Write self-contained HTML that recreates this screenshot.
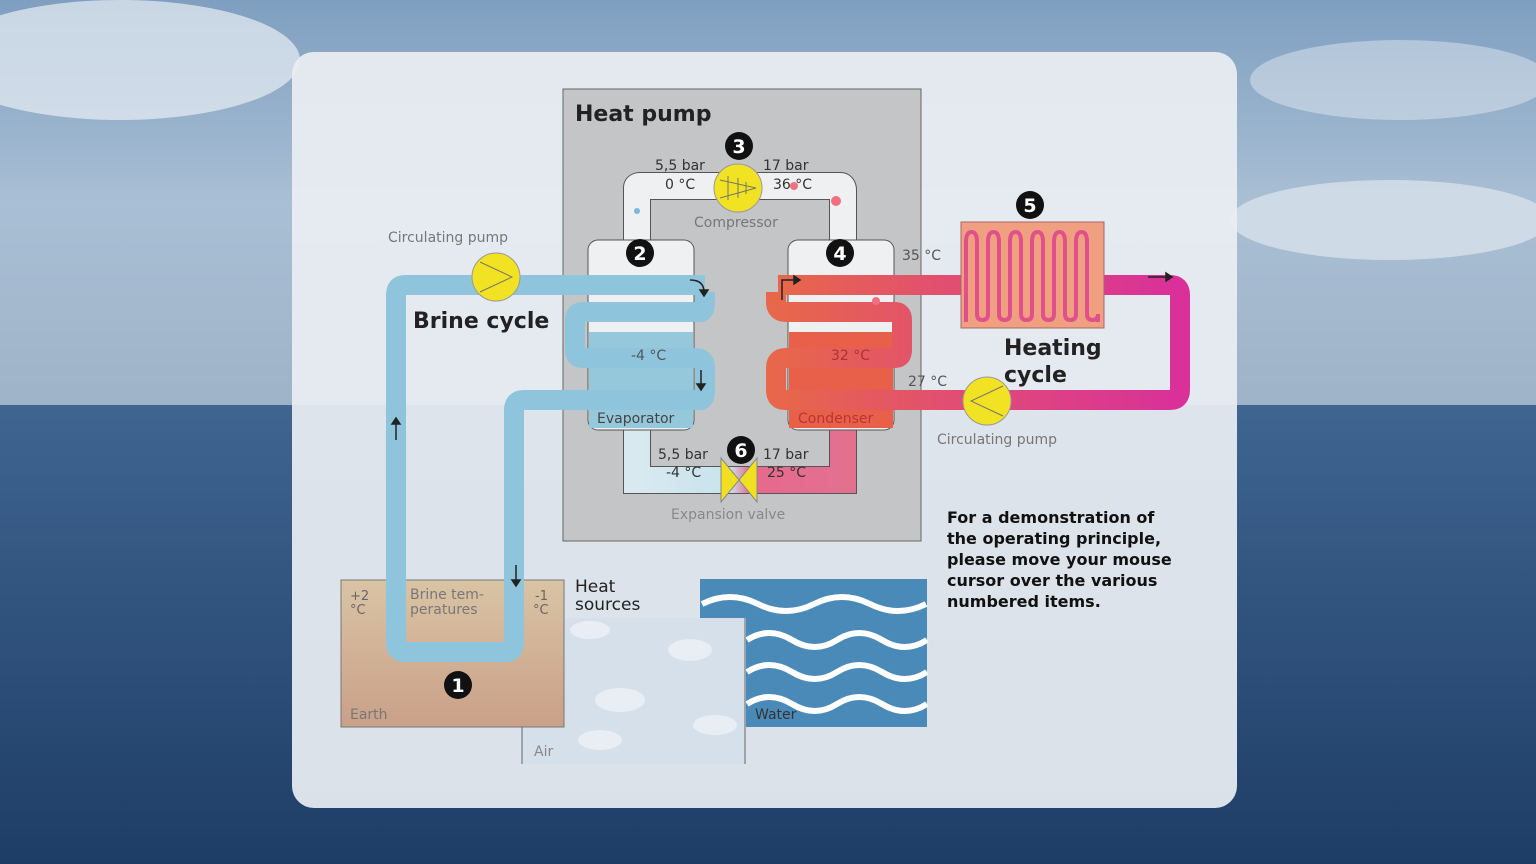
<!DOCTYPE html>
<html><head><meta charset="utf-8"><style>
html,body{margin:0;padding:0;width:1536px;height:864px;overflow:hidden}
svg text{font-family:"DejaVu Sans","Liberation Sans",sans-serif}
</style></head><body>
<svg width="1536" height="864" viewBox="0 0 1536 864" xmlns="http://www.w3.org/2000/svg">
<defs>
<linearGradient id="sky" x1="0" y1="0" x2="0" y2="1">
<stop offset="0" stop-color="#7f9fc0"/><stop offset="0.5" stop-color="#a9bfd4"/><stop offset="1" stop-color="#9fb3c8"/></linearGradient>
<linearGradient id="sea" x1="0" y1="0" x2="0" y2="1">
<stop offset="0" stop-color="#3f6590"/><stop offset="1" stop-color="#1e3d66"/></linearGradient>
<linearGradient id="earth" x1="0" y1="0" x2="0" y2="1">
<stop offset="0" stop-color="#d9c4a4"/><stop offset="1" stop-color="#c9a088"/></linearGradient>
<linearGradient id="heat" x1="0" y1="0" x2="1" y2="0">
<stop offset="0" stop-color="#e8674a"/><stop offset="0.5" stop-color="#e04a78"/><stop offset="1" stop-color="#d9309a"/></linearGradient>
<linearGradient id="botr" x1="0" y1="0" x2="1" y2="0">
<stop offset="0" stop-color="#d8eaf0"/><stop offset="0.45" stop-color="#c8e2ec"/><stop offset="0.55" stop-color="#e6688e"/><stop offset="1" stop-color="#e47090"/></linearGradient>
</defs>
<rect width="1536" height="405" fill="url(#sky)"/>
<ellipse cx="120" cy="60" rx="180" ry="60" fill="#e8eef3" opacity="0.7"/>
<ellipse cx="1390" cy="220" rx="160" ry="40" fill="#e8eef3" opacity="0.6"/>
<ellipse cx="1400" cy="80" rx="150" ry="40" fill="#dfe8f0" opacity="0.5"/>
<rect y="405" width="1536" height="459" fill="url(#sea)"/>
<rect x="292" y="52" width="945" height="756" rx="22" fill="#e9eef2" opacity="0.93"/>
<!-- heat pump box -->
<rect x="563" y="89" width="358" height="452" fill="#c3c5c7" stroke="#666" stroke-width="1"/>
<text x="575" y="121" font-size="22" font-weight="bold" fill="#222">Heat pump</text>
<!-- heat sources -->
<rect x="522" y="618" width="224" height="146" fill="#d6e0ea"/>
<g fill="#e8eef3"><ellipse cx="690" cy="650" rx="22" ry="11"/><ellipse cx="620" cy="700" rx="25" ry="12"/><ellipse cx="715" cy="725" rx="22" ry="10"/><ellipse cx="600" cy="740" rx="22" ry="10"/><ellipse cx="590" cy="630" rx="20" ry="9"/></g>
<rect x="341" y="580" width="223" height="147" fill="url(#earth)" stroke="#777"/>
<line x1="522" y1="727" x2="522" y2="764" stroke="#666"/>
<line x1="745" y1="618" x2="745" y2="764" stroke="#666"/>
<path d="M700 579 H927 V727 H746 V618 H700 Z" fill="#4a8ab8"/>
<g fill="none" stroke="#fff" stroke-width="6">
<path d="M702 604 q28 -14 56 0 t56 0 t56 0 t56 0"/>
<path d="M747 640 q22 -14 45 0 t45 0 t45 0 t45 0"/>
<path d="M747 672 q22 -14 45 0 t45 0 t45 0 t45 0"/>
<path d="M747 704 q22 -14 45 0 t45 0 t45 0 t45 0"/>
</g>
<text x="350" y="600" font-size="13" fill="#666">+2</text><text x="350" y="614" font-size="13" fill="#666">°C</text>
<text x="410" y="599" font-size="14" fill="#777">Brine tem-</text><text x="410" y="614" font-size="14" fill="#777">peratures</text>
<text x="535" y="600" font-size="13" fill="#666">-1</text><text x="533" y="614" font-size="13" fill="#666">°C</text>
<text x="350" y="719" font-size="14" fill="#777">Earth</text>
<text x="534" y="756" font-size="14" fill="#888">Air</text>
<text x="755" y="719" font-size="14" fill="#333">Water</text>
<text x="575" y="592" font-size="17" fill="#222">Heat</text><text x="575" y="610" font-size="17" fill="#222">sources</text>
<!-- refrigerant loop -->
<path d="M637 250 V188 Q637 186 640 186 H840 Q843 186 843 190 V250" fill="none" stroke="#555" stroke-width="28"/>
<path d="M637 250 V188 Q637 186 640 186 H840 Q843 186 843 190 V250" fill="none" stroke="#eef0f1" stroke-width="26"/>
<path d="M637 420 V480 H843 V420" fill="none" stroke="#555" stroke-width="28"/>
<path d="M637 420 V480 H843 V420" fill="none" stroke="url(#botr)" stroke-width="26"/>
<!-- vessels -->
<rect x="588" y="240" width="106" height="190" rx="10" fill="#eef0f1" stroke="#555"/>
<rect x="589" y="332" width="104" height="96" fill="#96c8dc"/>
<rect x="788" y="240" width="106" height="190" rx="10" fill="#eef0f1" stroke="#555"/>
<rect x="789" y="332" width="104" height="96" fill="#e8604a"/>
<!-- pipes -->
<g fill="none" stroke-linejoin="round">
<path d="M705 285 H405 Q396 285 396 295 V643 Q396 652 405 652 H505 Q514 652 514 643 V410 Q514 400 524 400 H700 Q705 400 705 390 V368 Q705 358 695 358 H583 Q575 358 575 350 V320 Q575 312 583 312 H700 Q705 312 705 302 V292" stroke="#8ec5dc" stroke-width="20"/>
<path d="M778 285 H1170 Q1180 285 1180 295 V390 Q1180 400 1170 400 H785 Q776 400 776 390 V368 Q776 358 786 358 H895 Q902 358 902 350 V320 Q902 312 895 312 H786 Q776 312 776 302 V292" stroke="url(#heat)" stroke-width="20"/>
</g>
<text x="631" y="360" font-size="14" fill="#555">-4 °C</text>
<text x="831" y="360" font-size="14" fill="#a33">32 °C</text>
<text x="597" y="423" font-size="14" fill="#444">Evaporator</text>
<text x="798" y="423" font-size="14" fill="#b33">Condenser</text>
<text x="655" y="170" font-size="14" fill="#333">5,5 bar</text><text x="665" y="189" font-size="14" fill="#333">0 °C</text>
<text x="763" y="170" font-size="14" fill="#333">17 bar</text><text x="773" y="189" font-size="14" fill="#333">36 °C</text>
<text x="694" y="227" font-size="14" fill="#777">Compressor</text>
<text x="658" y="459" font-size="14" fill="#333">5,5 bar</text><text x="666" y="477" font-size="14" fill="#333">-4 °C</text>
<text x="763" y="459" font-size="14" fill="#333">17 bar</text><text x="767" y="477" font-size="14" fill="#333">25 °C</text>
<text x="671" y="519" font-size="14" fill="#888">Expansion valve</text>
<circle cx="637" cy="211" r="3" fill="#7ab8dc"/><circle cx="836" cy="201" r="5" fill="#f07080"/><circle cx="794" cy="186" r="4" fill="#f07080"/><circle cx="876" cy="301" r="4" fill="#f07080"/>
<!-- valve -->
<polygon points="721,458 721,502 757,458 757,502" fill="#f0e020" stroke="#888"/>
<!-- compressor & pumps -->
<circle cx="738" cy="188" r="24" fill="#f2e224" stroke="#999"/>
<path d="M720 180 L756 188 L720 198 M728 176 V200 M738 178 V198 M746 182 V194" stroke="#776" fill="none"/>
<circle cx="496" cy="277" r="24" fill="#f2e224" stroke="#999"/>
<path d="M480 262 L512 277 L480 292" stroke="#776" fill="none"/>
<circle cx="987" cy="401" r="24" fill="#f2e224" stroke="#999"/>
<path d="M1003 386 L971 401 L1003 416" stroke="#776" fill="none"/>
<text x="388" y="242" font-size="14" fill="#777">Circulating pump</text>
<text x="937" y="444" font-size="14" fill="#777">Circulating pump</text>
<text x="413" y="328" font-size="22" font-weight="bold" fill="#222">Brine cycle</text>
<text x="1004" y="355" font-size="22" font-weight="bold" fill="#222">Heating</text>
<text x="1004" y="382" font-size="22" font-weight="bold" fill="#222">cycle</text>
<text x="902" y="260" font-size="14" fill="#555">35 °C</text>
<text x="908" y="386" font-size="14" fill="#555">27 °C</text>
<!-- radiator -->
<rect x="961" y="222" width="143" height="106" fill="#f0a080" stroke="#a66"/>
<path d="M966 322 V242 q0 -10 5.5 -10 q5.5 0 5.5 10 V314 q0 6 5.5 6 q5.5 0 5.5 -6 V242 q0 -10 5.5 -10 q5.5 0 5.5 10 V314 q0 6 5.5 6 q5.5 0 5.5 -6 V242 q0 -10 5.5 -10 q5.5 0 5.5 10 V314 q0 6 5.5 6 q5.5 0 5.5 -6 V242 q0 -10 5.5 -10 q5.5 0 5.5 10 V314 q0 6 5.5 6 q5.5 0 5.5 -6 V242 q0 -10 5.5 -10 q5.5 0 5.5 10 V314 q0 6 5.5 6 q5.5 0 5.5 -6 V242 q0 -10 5.5 -10 q5.5 0 5.5 10 V314 q0 6 5.5 6 q5.5 0 5.5 -6 V322" fill="none" stroke="#e0508a" stroke-width="4"/>
<!-- arrows -->
<g stroke="#222" stroke-width="1.5" fill="#222">
<path d="M396 440 V422" fill="none"/><polygon points="392,424 400,424 396,418"/>
<path d="M516 565 V582" fill="none"/><polygon points="512,580 520,580 516,586"/>
<path d="M1148 277 H1168" fill="none"/><polygon points="1166,273 1166,281 1172,277"/>
<path d="M690 280 Q704 280 704 292" fill="none"/><polygon points="700,290 708,290 704,296"/>
<path d="M701 370 V386" fill="none"/><polygon points="697,384 705,384 701,390"/>
<path d="M782 300 V280 H796" fill="none"/><polygon points="794,276 794,284 800,280"/>
</g>
<!-- badges -->
<g font-size="19" font-weight="bold" fill="#fff" text-anchor="middle">
<circle cx="739" cy="146" r="14" fill="#111"/><text x="739" y="153">3</text>
<circle cx="640" cy="253" r="14" fill="#111"/><text x="640" y="260">2</text>
<circle cx="840" cy="253" r="14" fill="#111"/><text x="840" y="260">4</text>
<circle cx="1030" cy="205" r="14" fill="#111"/><text x="1030" y="212">5</text>
<circle cx="741" cy="450" r="14" fill="#111"/><text x="741" y="457">6</text>
<circle cx="458" cy="685" r="14" fill="#111"/><text x="458" y="692">1</text>
</g>
<g font-size="16" font-weight="bold" fill="#111">
<text x="947" y="523">For a demonstration of</text>
<text x="947" y="544">the operating principle,</text>
<text x="947" y="565">please move your mouse</text>
<text x="947" y="586">cursor over the various</text>
<text x="947" y="607">numbered items.</text>
</g>
</svg>
</body></html>
